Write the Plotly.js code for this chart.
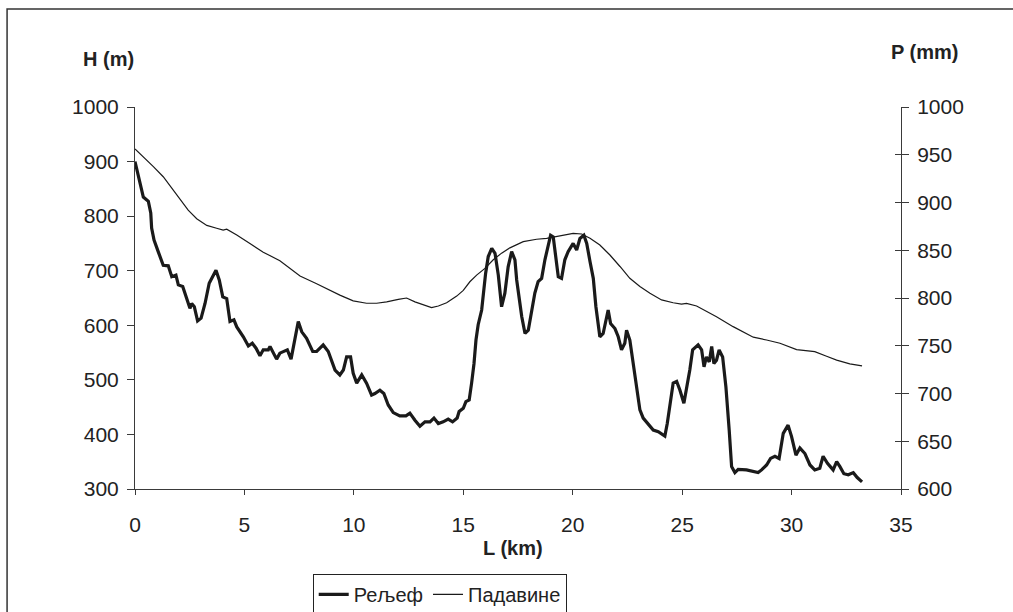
<!DOCTYPE html>
<html>
<head>
<meta charset="utf-8">
<script src="https://cdn.plot.ly/plotly-3.0.1.min.js"></script>
<style>
html,body{margin:0;padding:0;background:#fff;}
#chart{width:1013px;height:612px;}
</style>
</head>
<body>
<div id="chart"></div>
<script>
// Relief (Рељеф) – distance L (km) and elevation H (m)
const reliefL = [0,0.23,0.38,0.61,0.72,0.76,0.87,1.06,1.29,1.52,1.68,1.87,1.98,2.18,2.36,2.51,2.59,2.71,2.86,3.02,3.2,3.39,3.7,3.85,4.01,4.19,4.34,4.52,4.65,4.95,5.18,5.36,5.53,5.71,5.86,6.09,6.17,6.32,6.47,6.62,6.81,6.96,7.13,7.28,7.46,7.62,7.84,8.12,8.3,8.6,8.83,9.14,9.36,9.52,9.67,9.85,9.97,10.13,10.36,10.58,10.81,10.96,11.19,11.37,11.57,11.8,12.1,12.38,12.56,12.79,13.02,13.25,13.48,13.66,13.86,14.08,14.31,14.51,14.72,14.81,15.0,15.12,15.27,15.38,15.49,15.58,15.68,15.84,15.91,16.02,16.14,16.3,16.45,16.6,16.75,16.9,17.05,17.21,17.36,17.44,17.67,17.82,17.97,18.12,18.27,18.42,18.58,18.73,18.88,18.99,19.11,19.23,19.34,19.49,19.64,19.79,20.02,20.18,20.33,20.51,20.64,20.79,20.94,21.06,21.24,21.39,21.55,21.62,21.73,21.93,22.08,22.23,22.38,22.46,22.61,22.76,22.92,23.07,23.22,23.45,23.68,23.91,24.21,24.32,24.44,24.59,24.75,24.9,25.08,25.23,25.35,25.48,25.73,25.89,26.0,26.11,26.24,26.35,26.45,26.57,26.69,26.85,27.0,27.15,27.26,27.41,27.56,27.94,28.25,28.47,28.63,28.86,29.04,29.24,29.43,29.62,29.84,30.0,30.2,30.38,30.61,30.84,31.06,31.29,31.44,31.64,31.9,32.06,32.21,32.39,32.59,32.82,33.0,33.22];
const reliefH = [900,861,835,827,806,778,756,735,710,709,689,692,674,671,649,631,640,634,608,613,640,677,701,683,652,649,607,610,597,579,562,567,558,544,555,555,561,549,538,549,552,555,538,573,607,588,576,552,552,564,552,518,509,518,542,542,512,494,509,494,472,475,481,475,454,440,434,434,439,426,415,423,423,430,420,423,428,423,430,442,448,460,463,494,530,573,601,628,659,695,726,741,732,692,634,659,707,735,720,683,616,585,591,628,659,680,686,720,744,765,762,720,689,686,720,735,750,738,759,765,750,717,686,634,579,585,619,628,603,594,579,555,567,591,573,530,494,445,430,420,408,405,397,420,457,494,497,481,457,488,518,555,564,555,524,542,533,561,530,536,555,542,487,408,341,330,336,335,332,330,335,344,356,360,356,402,417,396,362,375,365,344,335,338,360,347,335,350,341,328,326,330,321,313];

// Precipitation (Падавине) – distance L (km) and P (mm)
const rainL = [0,0.38,0.84,1.29,1.68,2.06,2.43,2.82,3.28,3.73,4.03,4.19,4.65,5.25,5.86,6.62,7.54,8.3,8.91,9.36,9.97,10.58,11.04,11.5,12.03,12.41,12.79,13.17,13.55,13.86,14.24,14.7,15.0,15.3,15.61,15.99,16.37,16.75,17.13,17.74,18.35,18.81,19.42,20.02,20.41,20.79,21.24,21.7,22.16,22.61,23.07,23.53,24.06,24.59,24.97,25.2,25.66,26.27,26.57,27.33,28.25,28.86,29.47,30.23,31.06,31.6,32.06,32.66,33.22];
const rainP = [956,948,937.5,927,915,904,892,883,876,873,871,872,866,857,848,839,823,815,808,803,797,794.5,794.5,796,798.6,800,796,792.7,790,791.6,795,802,808,817,824,831,840,847,852.5,859,861.5,862.5,865,867.7,867,862.5,855.5,845,833,820.6,812,805,798,795,793.7,794.4,791.6,784,780.4,770,759,756,752.6,746,743.8,739,735,731,729];

const seriesNames = ['Рељеф','Падавине'];
const xTicks = [0,5,10,15,20,25,30,35];
const hTicks = [300,400,500,600,700,800,900,1000];
const pTicks = [600,650,700,750,800,850,900,950,1000];

const FONT = 'Liberation Sans, Arial, sans-serif';
const AX = '#3a3a3a';

const traces = [
  {x: reliefL, y: reliefH, name: seriesNames[0], type: 'scatter', mode: 'lines',
   line: {color: '#1a1a1a', width: 3.2}, yaxis: 'y'},
  {x: rainL, y: rainP, name: seriesNames[1], type: 'scatter', mode: 'lines',
   line: {color: '#1a1a1a', width: 1.2}, yaxis: 'y2'}
];

const layout = {
  width: 1013, height: 612,
  margin: {l: 135, r: 112, t: 107, b: 123, pad: 0, autoexpand: false},
  paper_bgcolor: '#fff', plot_bgcolor: '#fff',
  font: {family: FONT, size: 21, color: '#222'},
  showlegend: true,
  legend: {orientation: 'h', x: 0.232, xanchor: 'left', y: -0.222, yanchor: 'top',
    bordercolor: '#222', borderwidth: 1, font: {size: 20, family: FONT},
    itemwidth: 30, tracegroupgap: 0, bgcolor: '#fff'},
  xaxis: {range: [0, 35], tickvals: xTicks, ticks: 'outside', ticklen: 5, tickcolor: AX,
    showline: true, linecolor: AX, linewidth: 1, showgrid: false, zeroline: false,
    tickfont: {size: 21, family: FONT}, ticklabelstandoff: 12, fixedrange: true},
  yaxis: {range: [300, 1000], tickvals: hTicks, ticks: 'outside', ticklen: 7, tickcolor: AX,
    showline: true, linecolor: AX, linewidth: 1, showgrid: false, zeroline: false,
    tickfont: {size: 21, family: FONT}, ticklabelstandoff: 4},
  yaxis2: {range: [600, 1000], tickvals: pTicks, ticks: 'outside', ticklen: 7, tickcolor: AX,
    overlaying: 'y', side: 'right', anchor: 'x',
    showline: true, linecolor: AX, linewidth: 1, showgrid: false, zeroline: false,
    tickfont: {size: 21, family: FONT}, ticklabelstandoff: 4},
  yaxis3: {range: [600, 1000], tickvals: pTicks, ticks: 'inside', ticklen: 6, tickcolor: AX,
    overlaying: 'y', side: 'right', anchor: 'x', showticklabels: false,
    showline: false, showgrid: false, zeroline: false},
  annotations: [
    {text: '<b>H (m)</b>', xref: 'paper', yref: 'paper', x: -0.034, y: 1.126,
     xanchor: 'center', yanchor: 'middle', showarrow: false, font: {size: 20, family: FONT, color: '#222'}},
    {text: '<b>P (mm)</b>', xref: 'paper', yref: 'paper', x: 1.031, y: 1.144,
     xanchor: 'center', yanchor: 'middle', showarrow: false, font: {size: 20, family: FONT, color: '#222'}},
    {text: '<b>L (km)</b>', xref: 'paper', yref: 'paper', x: 0.4935, y: -0.155,
     xanchor: 'center', yanchor: 'middle', showarrow: false, font: {size: 20, family: FONT, color: '#222'}}
  ],
  shapes: [
    {type: 'rect', xref: 'paper', yref: 'paper', x0: -0.167, x1: 1.2, y0: -0.4, y1: 1.2565,
     line: {color: '#333', width: 1.5}, fillcolor: 'rgba(0,0,0,0)', layer: 'above'}
  ]
};

// invisible trace to activate yaxis3 (crossing ticks on right axis)
traces.push({x: [0], y: [600], yaxis: 'y3', type: 'scatter', mode: 'lines',
  showlegend: false, hoverinfo: 'skip', line: {width: 0}});

Plotly.newPlot('chart', traces, layout, {displayModeBar: false, staticPlot: true});
</script>
</body>
</html>
